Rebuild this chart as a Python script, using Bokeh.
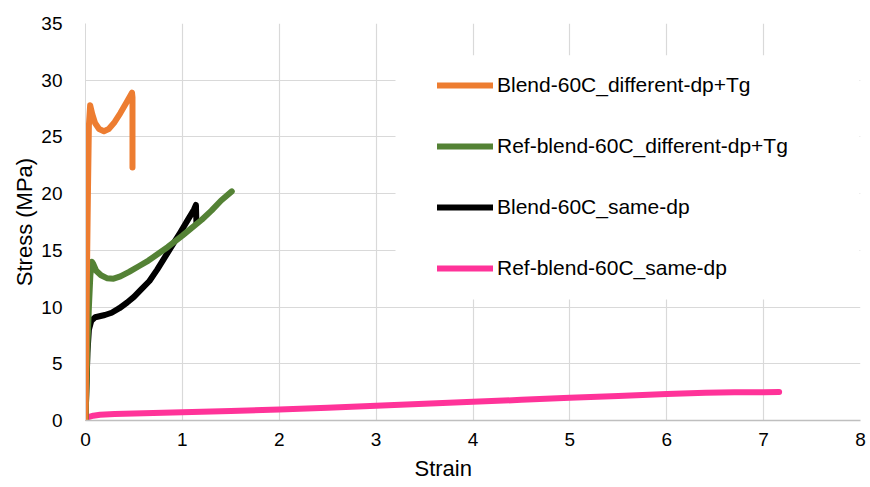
from bokeh.plotting import figure
from bokeh.models import Legend, LegendItem, BoxAnnotation, FixedTicker, Range1d, Title
from bokeh.embed import file_html
from bokeh.resources import INLINE

# Tensile curves: strain (-) vs. stress (MPa)
blend_diff_strain = [0, 0.008, 0.015, 0.025, 0.035, 0.048, 0.07, 0.10, 0.14, 0.19, 0.24,
                     0.30, 0.36, 0.42, 0.48, 0.485, 0.485]
blend_diff_stress = [0, 6.0, 13.0, 20.0, 26.0, 27.8, 27.0, 26.2, 25.7, 25.5, 25.7,
                     26.3, 27.1, 28.0, 28.9, 28.5, 22.3]

ref_diff_strain = [0, 0.01, 0.02, 0.035, 0.05, 0.065, 0.08, 0.11, 0.16, 0.22, 0.29, 0.36,
                   0.45, 0.55, 0.65, 0.75, 0.85, 1.0, 1.1, 1.2, 1.3, 1.4, 1.51]
ref_diff_stress = [0, 3.0, 6.5, 10.0, 12.8, 14.0, 13.8, 13.2, 12.8, 12.55, 12.5, 12.7,
                   13.1, 13.6, 14.1, 14.7, 15.3, 16.3, 17.0, 17.7, 18.5, 19.4, 20.2]

blend_same_strain = [0, 0.01, 0.02, 0.035, 0.06, 0.10, 0.2, 0.27, 0.35, 0.43, 0.5, 0.58,
                     0.66, 0.74, 0.82, 0.9, 0.98, 1.05, 1.12, 1.14, 1.145]
blend_same_stress = [0, 3.0, 6.0, 8.0, 8.8, 9.1, 9.3, 9.5, 9.9, 10.4, 10.9, 11.6,
                     12.3, 13.3, 14.4, 15.5, 16.6, 17.6, 18.6, 19.0, 17.4]

ref_same_strain = [0, 0.03, 0.08, 0.15, 0.3, 0.5, 1.0, 1.5, 2.0, 2.5, 3.0, 3.5, 4.0,
                   4.5, 5.0, 5.5, 6.0, 6.4, 6.7, 7.0, 7.16]
ref_same_stress = [0.15, 0.3, 0.42, 0.5, 0.57, 0.62, 0.72, 0.84, 0.97, 1.12, 1.3, 1.47, 1.65,
                   1.82, 2.0, 2.17, 2.33, 2.45, 2.48, 2.5, 2.52]

series_names = ["Blend-60C_different-dp+Tg", "Ref-blend-60C_different-dp+Tg",
                "Blend-60C_same-dp", "Ref-blend-60C_same-dp"]
series_colors = ["#ED7D31", "#548235", "#000000", "#FF3399"]

x_ticks = [0, 1, 2, 3, 4, 5, 6, 7, 8]
y_ticks = [0, 5, 10, 15, 20, 25, 30, 35]

FONT = "Liberation Sans"

p = figure(width=870, height=487, output_backend="svg", toolbar_location=None,
           x_range=Range1d(0, 8), y_range=Range1d(0, 35),
           min_border_left=85, min_border_right=10, min_border_top=23, min_border_bottom=67)
p.outline_line_color = None

# axes
for ax in (p.xaxis[0], p.yaxis[0]):
    ax.major_tick_line_color = None
    ax.minor_tick_line_color = None
    ax.major_label_text_font = FONT
    ax.major_label_text_font_size = "19px"
    ax.major_label_text_color = "#000000"
    ax.axis_label_text_font = FONT
    ax.axis_label_text_font_size = "22px"
    ax.axis_label_text_font_style = "normal"
    ax.axis_label_text_color = "#000000"

p.xaxis.ticker = FixedTicker(ticks=x_ticks)
p.yaxis.ticker = FixedTicker(ticks=y_ticks)
p.yaxis.axis_label = "Stress (MPa)"
p.xaxis.axis_line_color = "#bfbfbf"
p.xaxis.axis_line_width = 1.5
p.yaxis.axis_line_color = "#d9d9d9"
p.xaxis.major_label_standoff = 6
p.yaxis.major_label_standoff = 17
p.yaxis.axis_label_standoff = 1

# x-axis title, placed a little left of the frame centre
p.add_layout(Title(text="Strain", align="left", offset=329, standoff=11,
                   text_font=FONT, text_font_size="22px", text_font_style="normal",
                   text_color="#000000"), "below")

p.xgrid.ticker = FixedTicker(ticks=x_ticks)
p.ygrid.ticker = FixedTicker(ticks=y_ticks)
p.grid.grid_line_color = "#d9d9d9"
p.grid.grid_line_width = 1.2

# white panel behind the legend
p.add_layout(BoxAnnotation(left=3.2, right=7.99, bottom=10.67, top=32.2,
                           fill_color="white", fill_alpha=1.0, line_alpha=0,
                           level="glyph"))

curves = [
    (blend_diff_strain, blend_diff_stress),
    (ref_diff_strain, ref_diff_stress),
    (blend_same_strain, blend_same_stress),
    (ref_same_strain, ref_same_stress),
]

items = []
renderers = []
for (xs, ys), name, color in zip(curves, series_names, series_colors):
    r = p.line(xs, ys, line_color=color, line_width=6, line_cap="round", line_join="round")
    renderers.append(r)
    items.append(LegendItem(label=name, renderers=[r]))

# draw the first series on top
p.renderers = renderers[::-1] + [rr for rr in p.renderers if rr not in renderers]

legend = Legend(items=items, location=(352, 140), orientation="vertical",
                label_text_font=FONT, label_text_font_size="21px", label_text_color="#000000",
                glyph_width=56, glyph_height=24, label_height=24, label_standoff=4,
                spacing=37, padding=0, margin=0,
                background_fill_alpha=0, border_line_alpha=0)
p.add_layout(legend)

open("out.html", "w").write(file_html(p, INLINE))
